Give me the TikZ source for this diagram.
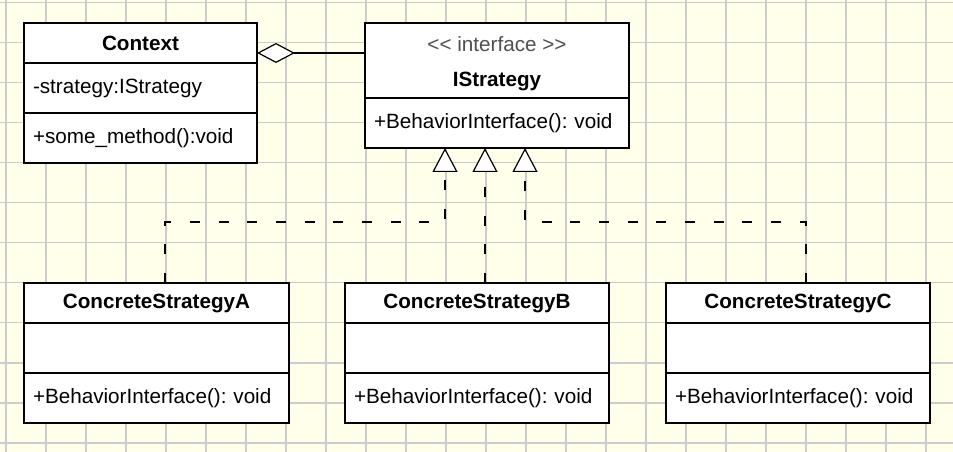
\documentclass[tikz,border=0pt]{standalone}
\usepackage{fontspec}
\setmainfont{Liberation Sans}
\usetikzlibrary{arrows.meta,positioning}
\definecolor{paper}{RGB}{255,255,234}
\definecolor{gridgray}{RGB}{204,204,204}
\definecolor{stereo}{RGB}{80,80,80}
\def\umlfont{\fontsize{15.5}{18.6}\selectfont\frenchspacing}
\tikzset{
	gridline/.style={line width=1.2pt, color=gridgray},
	classname/.style={draw, fill=white, line width=0.9pt, outer sep=0pt, inner sep=0pt,
		minimum width=#1, minimum height=30pt, anchor=north west, font=\umlfont\bfseries},
	members/.style={draw, fill=white, line width=0.9pt, outer sep=0pt, inner xsep=6.75pt,
		inner ysep=0pt, text width=#1, minimum height=37.5pt, align=left, anchor=north, font=\umlfont},
	realize/.style={line width=0.9pt, dash pattern=on 7.5pt off 14pt,
		-{Triangle[open, fill=white, width=18.75pt, length=18pt, line width=0.9pt]}},
	aggregate/.style={line width=0.9pt, -{Diamond[open, fill=white, width=15pt, length=28.5pt, line width=0.9pt]}}
}

\begin{document}
\begin{tikzpicture}[x=0.75pt, y=-0.75pt]
			%%%%% START %%%%%
			
			\fill[paper] (0, 0) rectangle (953, 452);
			\useasboundingbox (0, 0) rectangle (953, 452);
			\foreach \gx in {0,...,23}
				\draw[gridline] ({5.7+40*\gx}, 0) -- ({5.7+40*\gx}, 452);
			\foreach \gy in {0,...,11}
				\draw[gridline] (0, {2.7+40*\gy}) -- (953, {2.7+40*\gy});
			
			% context
			\node[classname=174.75pt] (ctx) at (24, 23) {Context};
			\node[members=161.25pt] (ctxattr) at (ctx.south) {-strategy:IStrategy};
			\node[members=161.25pt] (ctxops) at (ctxattr.south) {+some\_method():void};
			
			% interface
			\node[classname=198pt, minimum height=56.25pt, align=center, font=\umlfont] (istr) at (365, 23)
				{\rule{0pt}{16pt}{\color{stereo}<\kern0pt< interface >\kern0pt>}\\[7.5pt]\textbf{IStrategy}};
			\node[members=184.5pt] (istrops) at (istr.south) {+BehaviorInterface(): void};
			
			% concrete strategies
			\node[classname=198.75pt] (csA) at (24, 283) {ConcreteStrategyA};
			\node[members=185.25pt] (csAattr) at (csA.south) {};
			\node[members=185.25pt] (csAops) at (csAattr.south) {+BehaviorInterface(): void};
			
			\node[classname=198pt] (csB) at (345, 283) {ConcreteStrategyB};
			\node[members=184.5pt] (csBattr) at (csB.south) {};
			\node[members=184.5pt] (csBops) at (csBattr.south) {+BehaviorInterface(): void};
			
			\node[classname=198pt] (csC) at (666, 283) {ConcreteStrategyC};
			\node[members=184.5pt] (csCattr) at (csC.south) {};
			\node[members=184.5pt] (csCops) at (csCattr.south) {+BehaviorInterface(): void};
			
			% connectors
			\coordinate (hold) at (365, 53);
			\draw[aggregate] (hold) -- (hold -| ctx.east);
			
			\coordinate (bendA) at (445, 222);
			\coordinate (bendC) at (525, 222);
			\coordinate (legA) at ([xshift=6.4pt]csA.north);
			\coordinate (legB) at ([xshift=6pt]csB.north);
			\coordinate (legC) at ([xshift=6pt]csC.north);
			\draw[realize] (legA) |- (bendA) -- (bendA |- istrops.south);
			\draw[realize] (legB) -- (legB |- istrops.south);
			\draw[realize] (legC) |- (bendC) -- (bendC |- istrops.south);
			
			%%%%% END %%%%%
\end{tikzpicture}
\end{document}
